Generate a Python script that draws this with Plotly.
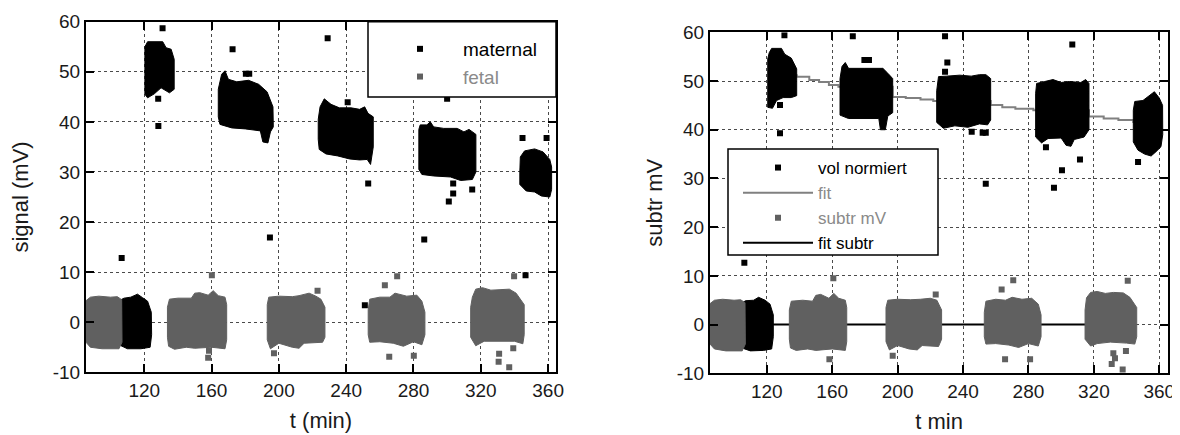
import plotly.graph_objects as go

FONT = "Liberation Sans, Arial, Helvetica, sans-serif"
BLACK = "#000000"
GRAY = "#606060"
FIT_GRAY = "#808080"
TEXT_GRAY = "#8a8a8a"

# ---------------- left panel: signal (mV) vs t (min) ----------------
# dense point clouds, outlined as (t, mV) polygons
maternal_blobs = [
    [(105.6, 4.4), (108, 4.8), (112, 5.0), (116, 5.6), (119, 4.9), (122, 4.2), (124.2, 2.0), (124.4, -2.5),
     (123.5, -5.0), (118, -5.3), (110, -5.3), (105.6, -4.6)],
    [(120.4, 55.0), (122, 56.0), (131, 56.0), (133, 54.8), (136, 54.5), (137.8, 52.5), (137.8, 46.5),
     (135, 45.8), (130, 46.8), (126, 45.6), (122, 44.8), (120.4, 45.5)],
    [(164.0, 46.5), (166, 49.5), (168, 50.2), (170, 48.5), (175, 48.0), (182, 48.3), (188, 47.5), (193, 46.0),
     (196.5, 43.0), (196.7, 39.0), (195, 38.0), (193.5, 35.8), (190.5, 36.0), (189, 38.2), (180, 38.6),
     (172, 38.8), (165, 39.5), (164.0, 41.0)],
    [(223.4, 40.5), (224.5, 43.0), (227, 44.6), (231, 43.5), (236, 42.8), (243, 42.8), (248, 42.5), (251, 43.0),
     (253, 41.7), (256.1, 41.0), (256.1, 35.0), (255, 33.0), (254.5, 31.5), (252.5, 32.5), (248, 32.4),
     (242, 32.6), (235, 33.2), (228, 33.6), (224, 34.5), (223.4, 36.5)],
    [(283.2, 38.5), (284, 39.4), (288, 39.4), (290, 40.0), (292, 39.0), (298, 38.7), (306, 38.7), (310, 38.0),
     (313, 38.5), (317.1, 37.5), (317.1, 30.0), (315, 28.5), (308, 28.3), (302, 29.0), (292, 29.2),
     (285, 29.5), (283.2, 30.5)],
    [(343.2, 30.0), (343.5, 33.0), (346, 34.2), (352, 34.6), (357, 34.0), (361, 32.5), (362.1, 31.0),
     (362.1, 26.5), (361, 25.0), (356, 25.2), (352, 26.0), (347, 26.2), (343.2, 27.5)],
]
maternal_t = [106.6, 130.9, 128.3, 128.4, 172.5, 180.4, 182.4, 194.7, 229.0, 240.9, 253.1, 251.1,
              300.0, 303.6, 303.6, 301.0, 314.9, 286.4, 344.8, 359.1, 346.6]
maternal_v = [12.8, 58.7, 44.6, 39.2, 54.5, 49.6, 49.6, 16.9, 56.7, 43.9, 27.7, 3.4,
              44.6, 27.7, 25.7, 24.1, 26.5, 16.5, 36.8, 36.8, 9.4]

fetal_blobs = [
    [(85.4, 4.3), (88, 5.0), (93, 5.2), (100, 5.0), (104, 5.1), (106.6, 4.5), (106.8, -4.0), (105, -5.3),
     (95, -5.3), (88, -5.0), (85.4, -4.0)],
    [(133.8, 3.0), (135, 4.6), (140, 4.8), (148, 4.8), (150, 5.8), (153, 5.9), (158, 5.4), (161, 6.3),
     (164, 5.3), (168, 5.0), (169, 3.5), (169, -3.5), (168, -5.3), (160, -5.0), (150, -5.2), (145, -5.0),
     (138, -5.4), (134.5, -4.8), (133.8, -3.0)],
    [(193.1, 3.5), (194, 5.0), (200, 5.2), (208, 5.1), (212, 5.3), (218, 5.8), (222, 5.2), (225, 4.6),
     (227.4, 3.0), (227.4, -3.0), (226, -4.0), (215, -4.2), (212, -5.2), (208, -5.0), (200, -4.2),
     (195, -5.3), (193.1, -3.5)],
    [(253.1, 2.5), (254, 4.6), (260, 5.0), (266, 5.0), (269, 5.8), (272, 5.6), (276, 5.2), (282, 5.4),
     (285, 4.2), (286.8, 2.0), (286.8, -2.5), (285, -4.5), (280, -3.9), (274, -4.8), (268, -4.2),
     (260, -3.9), (254, -4.0), (253.1, -2.5)],
    [(314, 3.0), (315, 5.0), (317, 6.6), (321, 6.9), (326, 6.4), (332, 6.5), (337, 6.6), (341, 5.8),
     (345.8, 3.5), (345.8, -2.5), (345, -4.3), (340, -3.8), (330, -3.8), (322, -3.8), (317, -4.7),
     (314, -3.0)],
]
fetal_t = [160.2, 158.0, 158.5, 223.0, 197.1, 263.0, 265.6, 270.3, 280.2, 339.8, 339.3, 330.9, 330.6, 336.9]
fetal_v = [9.4, -7.1, -5.7, 6.3, -6.2, 7.4, -6.9, 9.2, -6.7, 9.2, -5.2, -6.3, -7.9, -9.0]

# ---------------- right panel: subtr mV vs t min ----------------
vol_blobs = [
    [(104.8, 4.4), (107, 4.9), (112, 5.0), (115, 5.6), (119, 5.0), (122, 4.2), (124, 2.0), (124, -2.5),
     (123, -5.0), (118, -5.3), (110, -5.4), (104.8, -4.8)],
    [(120.6, 54.5), (121.5, 55.8), (123, 56.7), (129, 56.7), (131, 55.5), (135, 54.7), (138.3, 52.5),
     (138.3, 47.0), (135, 46.6), (130, 46.6), (126, 46.0), (123.5, 44.4), (120.6, 44.6)],
    [(164.8, 50.5), (166, 53.0), (168, 53.8), (170, 52.6), (180, 52.6), (191, 52.6), (194, 51.6), (197, 50.5),
     (197, 43.5), (194, 42.8), (192.5, 40.0), (189.5, 40.0), (188.5, 42.3), (180, 42.3), (170, 42.3),
     (164.8, 43.0)],
    [(223.9, 48.0), (225, 50.9), (230, 51.0), (238, 51.2), (245, 51.0), (250, 51.3), (254, 51.3),
     (256.9, 50.5), (256.9, 42.0), (255, 41.0), (250, 41.2), (243, 40.5), (235, 40.8), (228, 40.3),
     (223.9, 41.5)],
    [(284.4, 47.5), (285, 49.5), (290, 49.9), (295, 50.3), (300, 49.7), (305, 49.9), (312, 49.7), (315, 50.3),
     (317, 49.5), (317, 40.0), (314, 38.5), (308, 38.0), (306, 36.6), (303, 36.8), (300, 38.3), (292, 38.2),
     (288, 37.3), (284.4, 38.5)],
    [(344.1, 44.0), (345, 45.8), (350, 46.0), (354, 47.0), (357, 47.8), (360, 46.5), (362, 45.0),
     (362.1, 39.0), (361, 36.5), (358, 35.5), (355, 34.6), (351, 35.0), (347, 35.8), (344.1, 37.5)],
]
vol_t = [106.3, 130.8, 128.1, 128.1, 172.6, 179.7, 182.5, 229.0, 230.4, 229.0, 245.3, 252.0, 253.9, 253.9,
         306.8, 290.7, 311.5, 300.5, 295.6, 347.0]
vol_v = [12.7, 59.4, 45.1, 39.3, 59.2, 54.3, 54.3, 59.2, 53.8, 51.9, 39.6, 39.4, 39.4, 28.9,
         57.5, 36.4, 33.9, 31.7, 28.1, 33.4]

subtr_blobs = [
    [(85.3, 4.3), (88, 5.0), (93, 5.2), (100, 5.0), (104, 5.1), (106.7, 4.5), (106.9, -4.0), (105, -5.4),
     (95, -5.4), (88, -5.0), (85.3, -4.0)],
    [(133.8, 3.0), (135, 4.8), (142, 5.0), (148, 4.8), (150, 6.0), (153, 6.2), (158, 5.4), (161, 6.4),
     (164, 5.4), (168, 5.0), (168.9, 3.5), (168.9, -3.5), (168, -5.3), (160, -5.0), (150, -5.3),
     (145, -5.0), (138, -5.3), (134.5, -4.8), (133.8, -3.0)],
    [(192.9, 3.5), (194, 5.0), (200, 5.2), (208, 5.1), (214, 5.2), (220, 5.4), (224, 5.0), (226.9, 3.0),
     (226.9, -3.0), (225, -4.5), (215, -4.3), (212, -5.2), (207, -5.0), (200, -4.3), (195, -5.2),
     (192.9, -3.5)],
    [(253.0, 2.5), (254, 4.8), (260, 5.2), (266, 5.0), (270, 5.6), (276, 5.2), (282, 5.4), (286, 4.2),
     (287.7, 2.0), (287.7, -2.5), (286, -4.4), (280, -3.9), (274, -4.7), (268, -4.2), (260, -3.9),
     (254, -4.0), (253.0, -2.5)],
    [(314.6, 3.0), (315.5, 5.5), (318, 6.6), (322, 6.8), (327, 6.4), (332, 6.6), (338, 6.5), (342, 5.6),
     (346.2, 3.5), (346.2, -2.5), (345, -4.0), (340, -3.8), (330, -3.6), (322, -3.9), (318, -4.4),
     (314.6, -3.0)],
]
subtr_t = [160.7, 158.3, 197.0, 223.3, 270.7, 263.6, 265.7, 281.0, 340.7, 339.6, 331.9, 332.9, 330.9, 337.6]
subtr_v = [9.5, -7.1, -6.4, 6.2, 9.1, 7.2, -7.1, -7.1, 9.0, -5.4, -5.9, -6.9, -8.1, -9.2]

fit_t = [126, 138.3, 146, 152, 158, 163.8, 197.0, 205, 214, 221.8, 256.9, 264, 272, 283.0,
         317.0, 326, 335, 344.1, 358]
fit_v = [51.2, 50.9, 50.2, 49.8, 49.2, 48.8, 46.7, 46.5, 46.2, 45.9, 45.1, 44.6, 44.3, 44.0,
         42.7, 42.3, 42.0, 41.6, 41.0]

fit_subtr_t = [88, 340]
fit_subtr_v = [0, 0]

x_ticks = [120, 160, 200, 240, 280, 320, 360]
y_ticks = [-10, 0, 10, 20, 30, 40, 50, 60]
y_tick_text = ["-10", "0", "10", "20", "30", "40", "50", "60"]


def blob_xy(blobs):
    xs, ys = [], []
    for poly in blobs:
        for t, v in poly + [poly[0]]:
            xs.append(t)
            ys.append(v)
        xs.append(None)
        ys.append(None)
    return xs, ys


def gray_name(s):
    return f"<span style='color:{TEXT_GRAY}'>{s}</span>"


fig = go.Figure()

# ---- left panel
bx, by = blob_xy(maternal_blobs)
fig.add_trace(go.Scatter(x=bx, y=by, mode="lines", fill="toself", fillcolor=BLACK,
                         line=dict(color=BLACK, width=1), showlegend=False, hoverinfo="skip",
                         xaxis="x", yaxis="y"))
fig.add_trace(go.Scatter(x=maternal_t, y=maternal_v, mode="markers", name="maternal",
                         marker=dict(symbol="square", size=6, color=BLACK),
                         xaxis="x", yaxis="y", legend="legend"))
bx, by = blob_xy(fetal_blobs)
fig.add_trace(go.Scatter(x=bx, y=by, mode="lines", fill="toself", fillcolor=GRAY,
                         line=dict(color=GRAY, width=1), showlegend=False, hoverinfo="skip",
                         xaxis="x", yaxis="y"))
fig.add_trace(go.Scatter(x=fetal_t, y=fetal_v, mode="markers", name=gray_name("fetal"),
                         marker=dict(symbol="square", size=6, color=GRAY),
                         xaxis="x", yaxis="y", legend="legend"))

# ---- right panel
fig.add_trace(go.Scatter(x=fit_subtr_t, y=fit_subtr_v, mode="lines", name="fit subtr",
                         line=dict(color=BLACK, width=2), xaxis="x2", yaxis="y2",
                         legend="legend2", legendrank=4))
fig.add_trace(go.Scatter(x=fit_t, y=fit_v, mode="lines", name=gray_name("fit"),
                         line=dict(color=FIT_GRAY, width=2, shape="hv"), xaxis="x2", yaxis="y2",
                         legend="legend2", legendrank=2))
bx, by = blob_xy(vol_blobs)
fig.add_trace(go.Scatter(x=bx, y=by, mode="lines", fill="toself", fillcolor=BLACK,
                         line=dict(color=BLACK, width=1), showlegend=False, hoverinfo="skip",
                         xaxis="x2", yaxis="y2"))
fig.add_trace(go.Scatter(x=vol_t, y=vol_v, mode="markers", name="vol normiert",
                         marker=dict(symbol="square", size=6, color=BLACK),
                         xaxis="x2", yaxis="y2", legend="legend2", legendrank=1))
bx, by = blob_xy(subtr_blobs)
fig.add_trace(go.Scatter(x=bx, y=by, mode="lines", fill="toself", fillcolor=GRAY,
                         line=dict(color=GRAY, width=1), showlegend=False, hoverinfo="skip",
                         xaxis="x2", yaxis="y2"))
fig.add_trace(go.Scatter(x=subtr_t, y=subtr_v, mode="markers", name=gray_name("subtr mV"),
                         marker=dict(symbol="square", size=6, color=GRAY),
                         xaxis="x2", yaxis="y2", legend="legend2", legendrank=3))

W, H = 1180, 435
OX, OY = 8, 8  # page body margin offsets the figure inside the browser window


def px(x):
    return (x - OX) / W


def py(y):
    return 1 - (y - OY) / H


axis_common = dict(
    showline=True, linecolor=BLACK, linewidth=2, mirror="allticks",
    ticks="inside", ticklen=8, tickwidth=2, tickcolor=BLACK,
    showgrid=True, gridcolor="#4a4a4a", griddash="dot", gridwidth=1.3,
    zeroline=False, automargin=False, ticklabeloverflow="allow",
    tickfont=dict(family=FONT, size=19, color="#1a1a1a"),
)
title_font = dict(family=FONT, size=22, color="#1a1a1a")

fig.update_layout(
    width=W, height=H,
    margin=dict(l=0, r=0, t=0, b=0),
    paper_bgcolor="white", plot_bgcolor="white",
    font=dict(family=FONT),
    xaxis=dict(axis_common, domain=[px(86), px(556)], range=[85.4, 364.7], anchor="y",
               tickmode="array", tickvals=x_ticks, ticktext=[str(v) for v in x_ticks],
               title=dict(text="t (min)", font=title_font, standoff=13)),
    yaxis=dict(axis_common, domain=[py(372.3), py(21.7)], range=[-10, 60], anchor="x",
               tickmode="array", tickvals=y_ticks, ticktext=y_tick_text,
               title=dict(text="signal (mV)", font=title_font, standoff=21)),
    xaxis2=dict(axis_common, domain=[px(710), px(1168.3)], range=[85.3, 365.5], anchor="y2",
                tickmode="array", tickvals=x_ticks, ticktext=[str(v) for v in x_ticks],
                title=dict(text="t min", font=title_font, standoff=13)),
    yaxis2=dict(axis_common, domain=[py(373.3), py(32.3)], range=[-10, 60], anchor="x2",
                tickmode="array", tickvals=y_ticks, ticktext=y_tick_text,
                title=dict(text="subtr mV", font=title_font, standoff=8)),
    legend=dict(x=px(377), y=py(30), xanchor="left", yanchor="top",
                bgcolor="rgba(0,0,0,0)", borderwidth=0, itemwidth=76,
                font=dict(family=FONT, size=19, color=BLACK), tracegroupgap=0),
    legend2=dict(x=px(738), y=py(150), xanchor="left", yanchor="top",
                 bgcolor="rgba(0,0,0,0)", borderwidth=0, itemwidth=70,
                 font=dict(family=FONT, size=17, color=BLACK), tracegroupgap=0),
    shapes=[
        dict(type="rect", xref="paper", yref="paper", x0=px(368), x1=px(556), y0=py(97), y1=py(21.7),
             fillcolor="white", line=dict(color=BLACK, width=1.5), layer="above"),
        dict(type="rect", xref="paper", yref="paper", x0=px(728), x1=px(938), y0=py(255), y1=py(149),
             fillcolor="white", line=dict(color=BLACK, width=1.5), layer="above"),
    ],
)

fig.write_html("out.html")
